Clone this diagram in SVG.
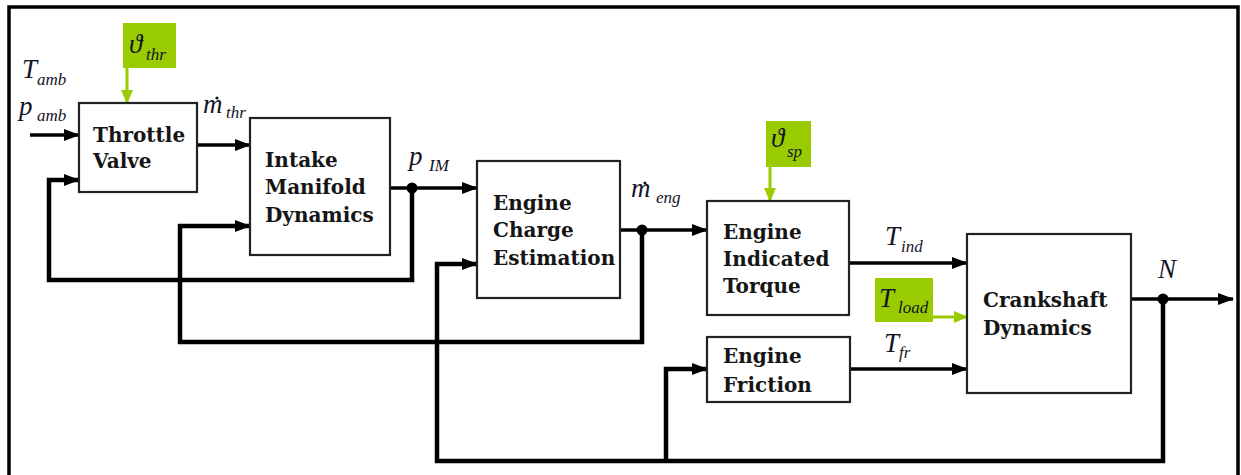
<svg xmlns="http://www.w3.org/2000/svg" width="1241" height="475" viewBox="0 0 1241 475">
<style>
.box{fill:#fff;stroke:#222;stroke-width:2.2}
.bt{font-family:"DejaVu Serif",serif;font-weight:bold;font-size:20px;fill:#151515}
.ln{fill:none;stroke:#000;stroke-width:3.5;stroke-linejoin:miter}
.fb{fill:none;stroke:#000;stroke-width:4.5;stroke-linejoin:miter}
.gl{fill:none;stroke:#99cc00;stroke-width:3}
.gbox{fill:#99cc00}
.m{font-family:"Liberation Serif","DejaVu Serif",serif;font-style:italic;font-size:27px;fill:#141428}
.s{font-family:"Liberation Serif","DejaVu Serif",serif;font-style:italic;font-size:17px;fill:#141428}
</style>
<defs>
<marker id="ah" markerUnits="userSpaceOnUse" markerWidth="16" markerHeight="12" refX="15" refY="6" orient="auto">
<path d="M0,0 L16,6 L0,12 z" fill="#000"/>
</marker>
<marker id="gah" markerUnits="userSpaceOnUse" markerWidth="14" markerHeight="12" refX="13" refY="6" orient="auto">
<path d="M0,0 L14,6 L0,12 z" fill="#99cc00"/>
</marker>
</defs>
<rect width="1241" height="475" fill="#fff"/>
<path d="M9,475 V7 H1238 V475" fill="none" stroke="#000" stroke-width="3.5"/>

<g id="connectors">
<path class="ln" d="M30,135 H79" marker-end="url(#ah)"/>
<path class="ln" d="M197,145 H250" marker-end="url(#ah)"/>
<path class="ln" d="M390,188 H477" marker-end="url(#ah)"/>
<path class="ln" d="M620,230 H707" marker-end="url(#ah)"/>
<path class="ln" d="M849,263 H967" marker-end="url(#ah)"/>
<path class="ln" d="M850,369 H967" marker-end="url(#ah)"/>
<path class="ln" d="M1131,299 H1233" marker-end="url(#ah)"/>
<path class="fb" d="M412,188 V280 H49 V180 H79" marker-end="url(#ah)"/>
<path class="fb" d="M642,230 V342 H180 V226 H250" marker-end="url(#ah)"/>
<path class="fb" d="M1163,299 V461 H437 V264 H477" marker-end="url(#ah)"/>
<path class="fb" d="M666,461 V369 H707" marker-end="url(#ah)"/>
<circle cx="412" cy="188" r="5.5" fill="#000"/>
<circle cx="642" cy="230" r="5.5" fill="#000"/>
<circle cx="1163" cy="299" r="5.5" fill="#000"/>
<path class="gl" d="M127,67 V103" marker-end="url(#gah)"/>
<path class="gl" d="M770,167 V201" marker-end="url(#gah)"/>
<path class="gl" d="M933,317 H967" marker-end="url(#gah)"/>
</g>

<g id="throttle">
<rect class="box" x="79" y="103" width="118" height="89"/>
<text class="bt" x="93" y="142">Throttle</text>
<text class="bt" x="93" y="168">Valve</text>
</g>
<g id="intake">
<rect class="box" x="250" y="118" width="140" height="137"/>
<text class="bt" x="265" y="167">Intake</text>
<text class="bt" x="265" y="194">Manifold</text>
<text class="bt" x="265" y="222">Dynamics</text>
</g>
<g id="charge">
<rect class="box" x="477" y="161" width="143" height="137"/>
<text class="bt" x="493" y="210">Engine</text>
<text class="bt" x="493" y="237">Charge</text>
<text class="bt" x="493" y="265">Estimation</text>
</g>
<g id="indicated">
<rect class="box" x="707" y="201" width="142" height="114"/>
<text class="bt" x="723" y="239">Engine</text>
<text class="bt" x="723" y="266">Indicated</text>
<text class="bt" x="723" y="293">Torque</text>
</g>
<g id="friction">
<rect class="box" x="707" y="337" width="143" height="65"/>
<text class="bt" x="723" y="363">Engine</text>
<text class="bt" x="723" y="392">Friction</text>
</g>
<g id="crankshaft">
<rect class="box" x="967" y="234" width="164" height="159"/>
<text class="bt" x="983" y="307">Crankshaft</text>
<text class="bt" x="983" y="335">Dynamics</text>
</g>

<g id="theta_thr">
<rect class="gbox" x="123" y="23" width="53" height="45"/>
<text class="m" x="129" y="53">ϑ</text>
<text class="s" x="146" y="60">thr</text>
</g>
<g id="theta_sp">
<rect class="gbox" x="766" y="121" width="45" height="46"/>
<text class="m" x="771" y="147">ϑ</text>
<text class="s" x="787" y="157">sp</text>
</g>
<g id="t_load">
<rect class="gbox" x="875" y="278" width="58" height="44"/>
<text class="m" x="879" y="307">T</text>
<text class="s" x="898" y="313">load</text>
</g>

<g id="labels">
<text class="m" x="22" y="78">T</text>
<text class="s" x="37" y="85">amb</text>
<text class="m" x="19" y="115">p</text>
<text class="s" x="37" y="121">amb</text>
<text class="m" x="203" y="113">m</text>
<circle cx="217" cy="98" r="1.6" fill="#141428"/>
<text class="s" x="226" y="118">thr</text>
<text class="m" x="409" y="165">p</text>
<text class="s" x="429" y="171">IM</text>
<text class="m" x="631" y="197">m</text>
<circle cx="645" cy="183" r="1.6" fill="#141428"/>
<text class="s" x="656" y="203">eng</text>
<text class="m" x="885" y="245">T</text>
<text class="s" x="901" y="252">ind</text>
<text class="m" x="884" y="352">T</text>
<text class="s" x="899" y="358">fr</text>
<text class="m" x="1158" y="278">N</text>
</g>
</svg>
